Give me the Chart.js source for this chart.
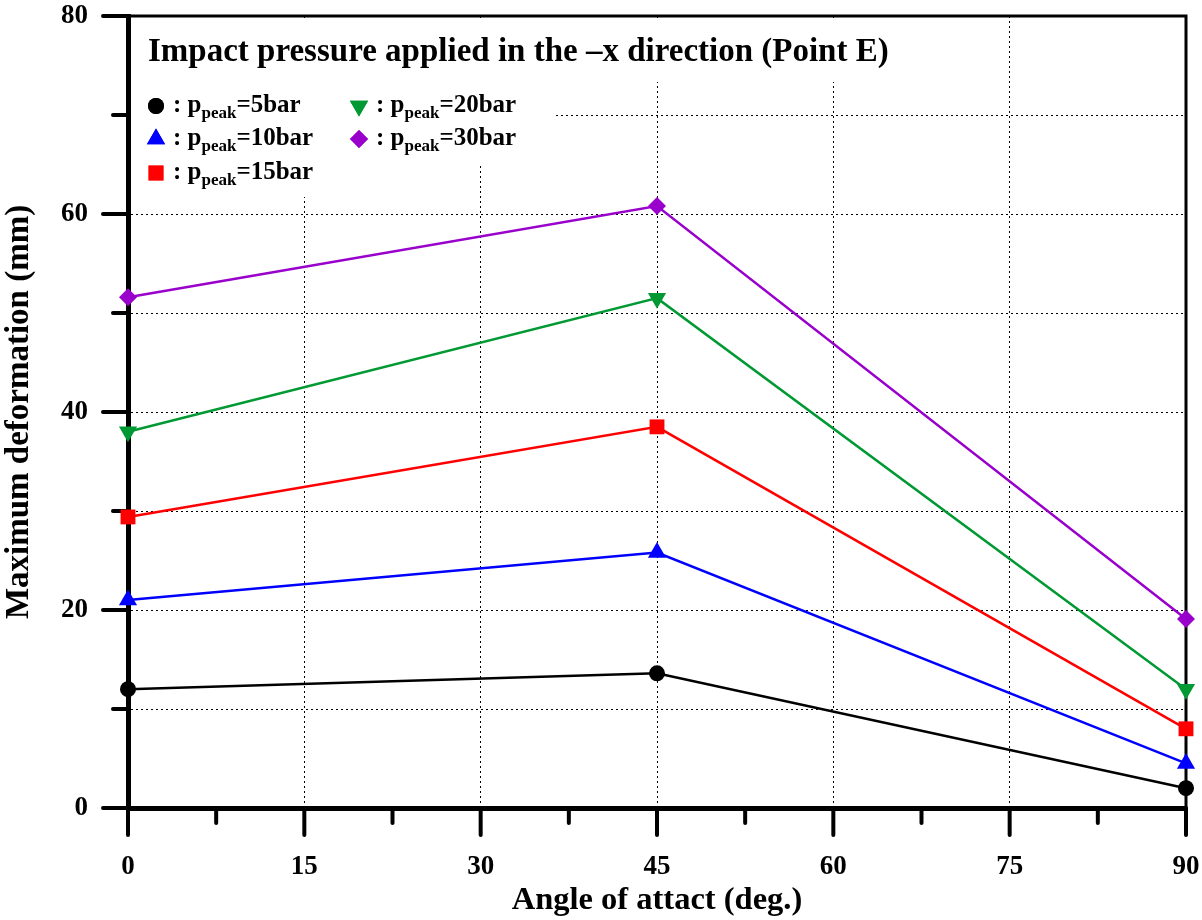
<!DOCTYPE html>
<html>
<head>
<meta charset="utf-8">
<script src="https://cdn.jsdelivr.net/npm/chart.js@4"></script>
<style>
  html, body { margin: 0; padding: 0; background: #fff; }
  #wrap { width: 1202px; height: 920px; }
</style>
</head>
<body>
<div id="wrap"><canvas id="canvas" width="1202" height="920"></canvas></div>
<script>
const FONT = "'Liberation Serif', 'Times New Roman', serif";

const angles = [0, 45, 90];
const p5 = [12.0, 13.6, 2.0];
const p10 = [21.0, 25.8, 4.5];
const p15 = [29.4, 38.5, 8.0];
const p20 = [38.0, 51.5, 12.0];
const p30 = [51.6, 60.8, 19.1];
const seriesLabels = ["5bar", "10bar", "15bar", "20bar", "30bar"];
const titleText = "Impact pressure applied in the \u2013x direction (Point E)";

const BLACK = "#000000";
const BLUE = "#0000ff";
const RED = "#ff0000";
const GREEN = "#009933";
const PURPLE = "#9900cc";

const toPoints = (ys) => ys.map((y, i) => ({ x: angles[i], y: y }));

const makeSet = (label, ys, color, style, radius, rotation) => ({
  label: label,
  data: toPoints(ys),
  borderColor: color,
  backgroundColor: color,
  borderWidth: 2.5,
  pointStyle: style,
  pointRadius: radius,
  pointHoverRadius: radius,
  pointRotation: rotation || 0,
  pointBorderWidth: 0,
  tension: 0,
  clip: false,
});

// white boxes, title, legend, ticks, top/right frame
const overlayPlugin = {
  id: "overlay",
  beforeDatasetsDraw(chart) {
    const c = chart.ctx;
    const area = chart.chartArea;
    const xs = chart.scales.x;
    const ys = chart.scales.y;
    c.save();

    // boxes hiding the grid behind the text
    c.fillStyle = "#fff";
    c.fillRect(area.left + 3, area.top + 2, 830, 64);
    c.fillRect(area.left + 3, area.top + 64, 200, 117);
    c.fillRect(area.left + 3, area.top + 64, 425, 83);

    // top / right frame
    c.strokeStyle = "#000";
    c.lineWidth = 3;
    c.beginPath();
    c.moveTo(area.left, area.top);
    c.lineTo(area.right, area.top);
    c.lineTo(area.right, area.bottom);
    c.stroke();

    // ticks
    c.lineWidth = 4;
    c.lineCap = "round";
    xs.ticks.forEach((t) => {
      const px = xs.getPixelForValue(t.value);
      const len = Math.abs(t.value % 15) < 1e-6 ? 27 : 15;
      c.beginPath();
      c.moveTo(px, area.bottom);
      c.lineTo(px, area.bottom + len);
      c.stroke();
    });
    ys.ticks.forEach((t) => {
      const py = ys.getPixelForValue(t.value);
      const len = Math.abs(t.value % 20) < 1e-6 ? 25 : 15;
      c.beginPath();
      c.moveTo(area.left, py);
      c.lineTo(area.left - len, py);
      c.stroke();
    });

    // title
    c.fillStyle = "#000";
    c.textBaseline = "alphabetic";
    c.textAlign = "left";
    c.font = "bold 33px " + FONT;
    c.fillText(titleText, area.left + 20, 61);

    // legend entries
    const pos = [
      [156, 106], [156, 139], [156, 173],
      [359, 106], [359, 139],
    ];
    chart.data.datasets.forEach((ds, i) => {
      const [mx, my] = pos[i];
      c.fillStyle = ds.backgroundColor;
      Chart.helpers.drawPoint(c, {
        pointStyle: ds.pointStyle,
        radius: ds.pointRadius,
        rotation: ds.pointRotation,
        borderWidth: 0,
      }, mx, my);
      c.fill();
      c.fillStyle = "#000";
      let tx = mx + 17;
      const base = my + 6;
      c.font = "bold 25px " + FONT;
      c.fillText(": p", tx, base);
      tx += c.measureText(": p").width;
      c.font = "bold 17px " + FONT;
      c.fillText("peak", tx, base + 6);
      tx += c.measureText("peak").width;
      c.font = "bold 25px " + FONT;
      c.fillText("=" + ds.label, tx, base);
    });
    c.restore();
  },
};

const ctx = document.getElementById("canvas");

new Chart(ctx, {
  type: "line",
  data: {
    datasets: [
      makeSet(seriesLabels[0], p5, BLACK, "circle", 8),
      makeSet(seriesLabels[1], p10, BLUE, "triangle", 10.5),
      makeSet(seriesLabels[2], p15, RED, "rect", 10.5),
      makeSet(seriesLabels[3], p20, GREEN, "triangle", 10.5, 180),
      makeSet(seriesLabels[4], p30, PURPLE, "rectRot", 9),
    ],
  },
  options: {
    responsive: false,
    animation: false,
    devicePixelRatio: 1,
    layout: { padding: { top: 16, right: 16, left: 0, bottom: 0 } },
    plugins: {
      legend: { display: false },
      tooltip: { enabled: false },
    },
    scales: {
      x: {
        type: "linear",
        min: 0,
        max: 90,
        afterFit: (scale) => {
          scale.height = 112;
          scale.paddingLeft = 0;
          scale.paddingRight = 0;
        },
        ticks: {
          stepSize: 7.5,
          padding: 43,
          color: "#000",
          font: { family: FONT, size: 27, weight: "bold" },
          maxRotation: 0,
          autoSkip: false,
          callback: (v) => (Math.abs(v % 15) < 1e-6 ? String(v) : ""),
        },
        grid: {
          drawTicks: false,
          lineWidth: 1,
          color: (c) => {
            const v = c.tick ? c.tick.value : 0;
            return Math.abs(v % 15) < 1e-6 && v > 0 && v < 90 ? "#000" : "rgba(0,0,0,0)";
          },
        },
        border: { display: true, color: "#000", width: 5, dash: [2, 3] },
        title: {
          display: true,
          text: "Angle of attact (deg.)",
          color: "#000",
          font: { family: FONT, size: 32.5, weight: "bold" },
          padding: { top: 0, bottom: 0 },
        },
      },
      y: {
        type: "linear",
        min: 0,
        max: 80,
        afterFit: (scale) => {
          scale.width = 128;
          scale.paddingTop = 0;
          scale.paddingBottom = 0;
        },
        ticks: {
          stepSize: 10,
          padding: 40,
          color: "#000",
          font: { family: FONT, size: 27, weight: "bold" },
          callback: (v) => (v % 20 === 0 ? String(v) : ""),
        },
        grid: {
          drawTicks: false,
          lineWidth: 1,
          color: (c) => {
            const v = c.tick ? c.tick.value : 0;
            return v > 0 && v < 80 ? "#000" : "rgba(0,0,0,0)";
          },
        },
        border: { display: true, color: "#000", width: 5, dash: [2, 3] },
        title: {
          display: true,
          text: "Maximum deformation (mm)",
          color: "#000",
          font: { family: FONT, size: 33, weight: "bold" },
          padding: { top: 0, bottom: 0 },
        },
      },
    },
  },
  plugins: [overlayPlugin],
});
</script>
</body>
</html>
